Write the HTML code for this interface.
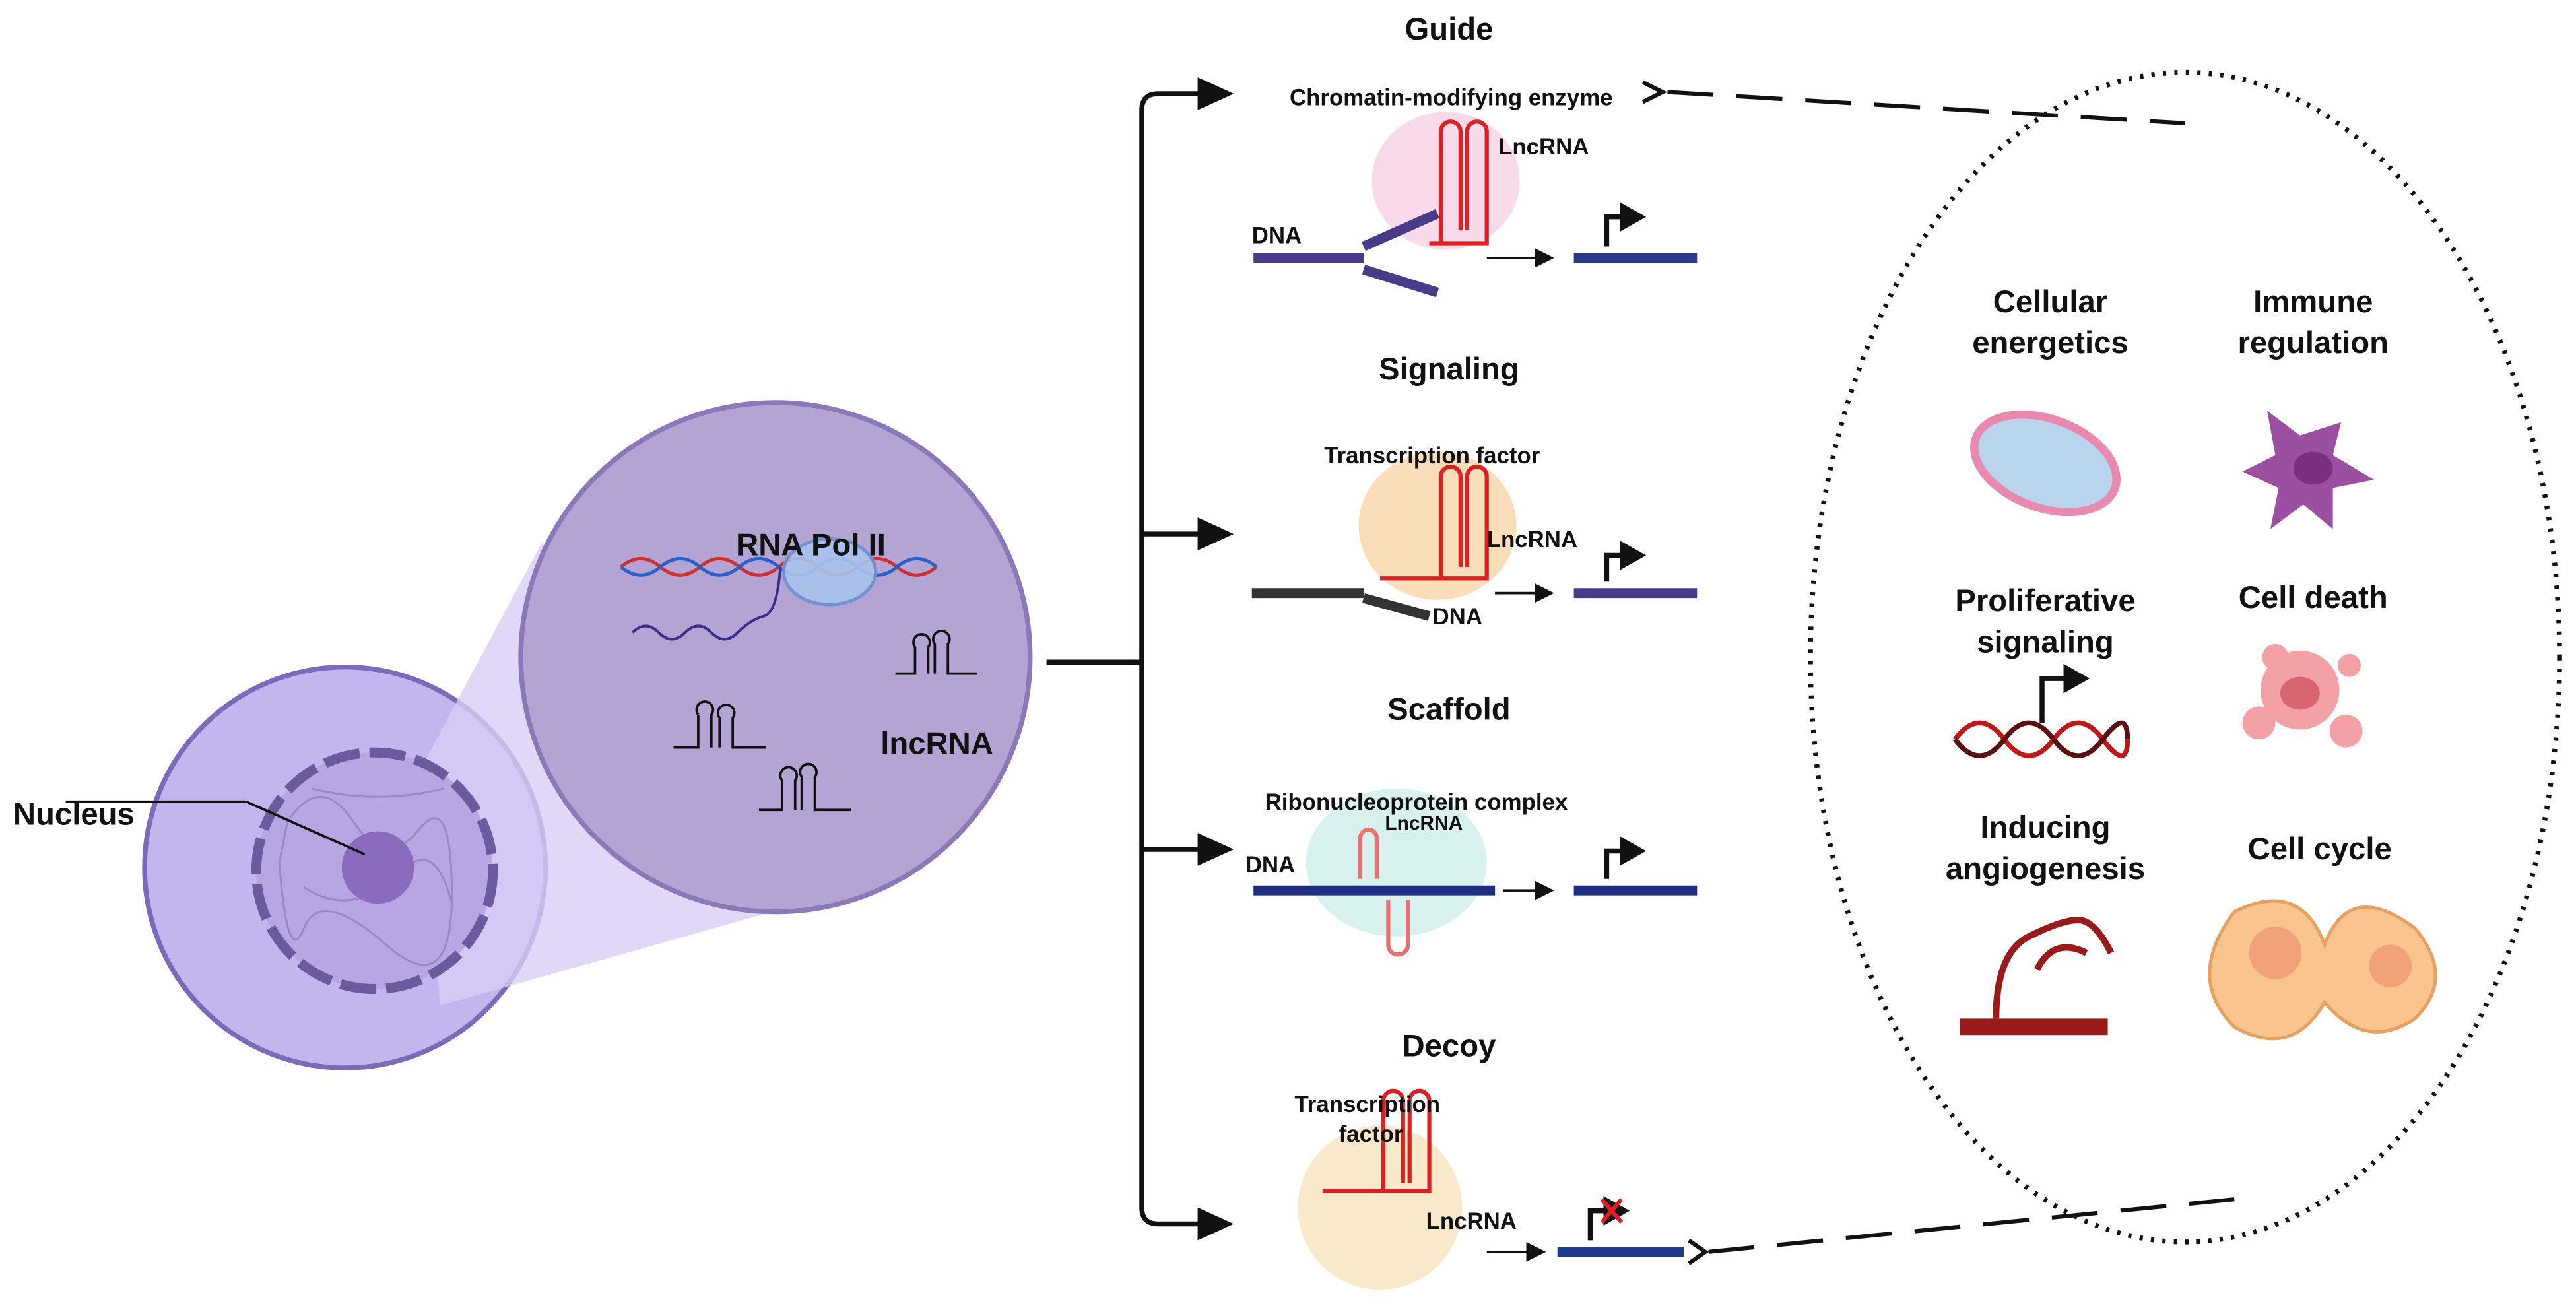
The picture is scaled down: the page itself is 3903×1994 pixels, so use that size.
<!DOCTYPE html>
<html><head><meta charset="utf-8"><style>html,body{margin:0;padding:0;background:#fff}svg{display:block}text{font-family:"Liberation Sans",sans-serif;font-weight:bold;fill:#111}</style></head><body>
<svg width="3903" height="1994" viewBox="0 0 1568 801" xmlns="http://www.w3.org/2000/svg">
<defs><marker id="ah" markerUnits="userSpaceOnUse" markerWidth="24" markerHeight="24" refX="4" refY="12" orient="auto"><path d="M0,2 L22,12 L0,22 Z" fill="#111"/></marker>
<marker id="sa" markerUnits="userSpaceOnUse" markerWidth="12" markerHeight="12" refX="4" refY="6" orient="auto"><path d="M0,0 L12,6 L0,12 Z" fill="#111"/></marker>
<marker id="pa" markerUnits="userSpaceOnUse" markerWidth="16" markerHeight="18" refX="2" refY="9" orient="auto"><path d="M0,0 L16,9 L0,18 Z" fill="#111"/></marker></defs>
<!-- cell -->
<circle cx="210" cy="528" r="122" fill="#c3b5ee" stroke="#7b69b9" stroke-width="3"/>
<polygon points="255,470 330,330 470,555 268,612" fill="#d9cdf5" opacity="0.8"/>
<circle cx="228" cy="530" r="72" fill="#b7a6e2" stroke="#6a5a9e" stroke-width="6" stroke-dasharray="22,6"/>
<g fill="none" stroke="#9a86c8" stroke-width="1.2"><path d="M175,500 q20,-30 40,0 t40,5 t20,40 t-40,30 t-50,-10 t-15,-40 z"/><path d="M185,540 q30,20 60,-10 q20,-20 30,20"/><path d="M190,480 q40,10 80,0"/></g>
<circle cx="230" cy="528" r="22" fill="#8a6cbf"/>
<line x1="40" y1="488" x2="150" y2="488" stroke="#111" stroke-width="1.5"/><line x1="150" y1="488" x2="222" y2="520" stroke="#111" stroke-width="1.5"/>
<text x="8" y="502" font-size="19">Nucleus</text>
<!-- zoom circle -->
<circle cx="472" cy="400" r="155" fill="#b3a4d3" stroke="#8b78b8" stroke-width="3"/>
<path d="M378,345 q12,-10 24,0 t24,0 t24,0 t24,0 t24,0 t24,0 t24,0 t24,0" fill="none" stroke="#d03030" stroke-width="2"/>
<path d="M378,345 q12,10 24,0 t24,0 t24,0 t24,0 t24,0 t24,0 t24,0 t24,0" fill="none" stroke="#2a60c8" stroke-width="2"/>
<ellipse cx="505" cy="348" rx="28" ry="20" fill="#a8c4ee" stroke="#6e8fd0" stroke-width="2" opacity="0.9"/>
<path d="M385,385 q8,-8 16,0 t16,0 t16,0 t16,0 t16,-10 t10,-30" fill="none" stroke="#3a2e8a" stroke-width="1.6"/>
<text x="448" y="338" font-size="19">RNA Pol II</text>
<text x="536" y="459" font-size="19">lncRNA</text>
<g fill="none" stroke="#111" stroke-width="1.5">
<path d="M410,455 l15,0 v-20 m0,0 a5,5 0 1,1 8,0 v20 m5,0 v-18 a5,5 0 1,1 8,0 v18 l20,0"/>
<path d="M545,410 l12,0 v-16 a5,5 0 1,1 8,0 v16 m4,0 v-18 a5,5 0 1,1 8,0 v18 l18,0"/>
<path d="M462,493 l14,0 v-18 a5,5 0 1,1 8,0 v18 m4,0 v-20 a5,5 0 1,1 8,0 v20 l22,0"/>
</g>
<!-- tree -->
<g stroke="#111" stroke-width="3" fill="none"><line x1="637" y1="403" x2="695" y2="403"/>
<path d="M705,57 Q695,57 695,67 V735 Q695,745 705,745"/></g>
<g stroke="#111" stroke-width="3"><line x1="705" y1="57" x2="733" y2="57" marker-end="url(#ah)"/><line x1="695" y1="325" x2="733" y2="325" marker-end="url(#ah)"/><line x1="695" y1="517" x2="733" y2="517" marker-end="url(#ah)"/><line x1="705" y1="745" x2="733" y2="745" marker-end="url(#ah)"/></g>
<!-- blobs -->
<ellipse cx="880" cy="110" rx="45" ry="42" fill="#f7d1e6" opacity="0.8"/>
<ellipse cx="875" cy="320" rx="48" ry="45" fill="#f9d5a8" opacity="0.8"/>
<ellipse cx="850" cy="525" rx="55" ry="45" fill="#cfeeea" opacity="0.8"/>
<ellipse cx="840" cy="735" rx="50" ry="50" fill="#f6e3bd" opacity="0.8"/>
<!-- headings -->
<g font-size="19" text-anchor="middle"><text x="882" y="24">Guide</text><text x="882" y="231">Signaling</text><text x="882" y="438">Scaffold</text><text x="882" y="643">Decoy</text></g>
<!-- DNA bars -->
<g stroke-width="6">
<line x1="763" y1="157" x2="830" y2="157" stroke="#4a3a8a"/><line x1="830" y1="150" x2="875" y2="130" stroke="#4a3a8a"/><line x1="830" y1="164" x2="875" y2="178" stroke="#4a3a8a"/>
<line x1="958" y1="157" x2="1033" y2="157" stroke="#2a3a8a"/>
<line x1="762" y1="361" x2="830" y2="361" stroke="#333"/><line x1="830" y1="364" x2="870" y2="375" stroke="#333"/>
<line x1="958" y1="361" x2="1033" y2="361" stroke="#4a3a8a"/>
<line x1="763" y1="542" x2="910" y2="542" stroke="#1e2e80"/><line x1="958" y1="542" x2="1033" y2="542" stroke="#1e2e80"/>
<line x1="948" y1="762" x2="1025" y2="762" stroke="#1e3a90"/></g>
<!-- lncRNA hairpins -->
<g fill="none" stroke="#e02020" stroke-width="2.5">
<path d="M870,148 H905 V80 a6,6 0 0,0 -12,0 V140 M889,140 V80 a6,6 0 0,0 -12,0 V148"/>
<path d="M840,352 H905 V290 a6,6 0 0,0 -12,0 V345 M889,345 V290 a6,6 0 0,0 -12,0 V352"/>
<path d="M828,535 V510 a5,5 0 0,1 10,0 V535 M845,548 V575 a6,6 0 0,0 12,0 V548" stroke="#e87070"/>
<path d="M805,725 H870 V670 a6,6 0 0,0 -12,0 V720 M854,720 V670 a6,6 0 0,0 -12,0 V725"/></g>
<g font-size="14"><text x="785" y="64">Chromatin-modifying enzyme</text><text x="912" y="94">LncRNA</text><text x="762" y="148">DNA</text>
<text x="806" y="282">Transcription factor</text><text x="905" y="333">LncRNA</text><text x="872" y="380">DNA</text>
<text x="770" y="493">Ribonucleoprotein complex</text><text x="843" y="505" font-size="12">LncRNA</text><text x="758" y="531">DNA</text>
<text x="788" y="677">Transcription</text><text x="815" y="695">factor</text><text x="868" y="748">LncRNA</text></g>
<!-- promoter arrows -->
<g stroke="#111" stroke-width="3" fill="none"><path d="M978,150 V132 H988" marker-end="url(#pa)"/><path d="M978,354 V338 H988" marker-end="url(#pa)"/><path d="M978,535 V518 H988" marker-end="url(#pa)"/><path d="M968,755 V737 H978" marker-end="url(#pa)"/></g>
<g stroke="#111" stroke-width="1.5"><line x1="905" y1="157" x2="938" y2="157" marker-end="url(#sa)"/><line x1="910" y1="361" x2="938" y2="361" marker-end="url(#sa)"/><line x1="915" y1="542" x2="938" y2="542" marker-end="url(#sa)"/><line x1="905" y1="762" x2="933" y2="762" marker-end="url(#sa)"/></g>
<path d="M975,730 l12,14 m0,-14 l-12,14" stroke="#e02020" stroke-width="2.5"/>
<!-- dashed connectors -->
<g stroke="#111" stroke-width="2.5" fill="none"><path d="M1000,50 l12,6 l-12,6"/><line x1="1015" y1="56" x2="1330" y2="75" stroke-dasharray="28,14"/>
<path d="M1028,755 l10,7 l-10,7"/><line x1="1040" y1="762" x2="1360" y2="730" stroke-dasharray="28,14"/></g>
<ellipse cx="1330" cy="400" rx="228" ry="356" fill="none" stroke="#111" stroke-width="3" stroke-dasharray="2,5"/>
<g font-size="19" text-anchor="middle"><text x="1248" y="190">Cellular</text><text x="1248" y="215">energetics</text><text x="1408" y="190">Immune</text><text x="1408" y="215">regulation</text>
<text x="1245" y="372">Proliferative</text><text x="1245" y="397">signaling</text><text x="1408" y="370">Cell death</text>
<text x="1245" y="510">Inducing</text><text x="1245" y="535">angiogenesis</text><text x="1412" y="523">Cell cycle</text></g>
<ellipse cx="1245" cy="282" rx="45" ry="27" transform="rotate(20 1245 282)" fill="#b9d5ee" stroke="#e88ab0" stroke-width="5"/>
<path d="M1380,250 l20,15 l25,-8 l-5,20 l25,15 l-25,5 l0,25 l-18,-15 l-20,15 l5,-25 l-22,-10 l20,-10 z" fill="#9a4fa0"/><ellipse cx="1408" cy="285" rx="12" ry="10" fill="#7a2f80"/>
<path d="M1190,450 q15,-20 30,0 t30,0 t30,0 t15,0" fill="none" stroke="#c01818" stroke-width="3"/><path d="M1190,450 q15,20 30,0 t30,0 t30,0 t15,0" fill="none" stroke="#5a1010" stroke-width="3"/>
<path d="M1243,440 V413 H1258" stroke="#111" stroke-width="3" fill="none" marker-end="url(#pa)"/>
<g fill="#f3a0a6"><circle cx="1400" cy="420" r="24"/><circle cx="1375" cy="440" r="10"/><circle cx="1428" cy="445" r="10"/><circle cx="1385" cy="400" r="8"/><circle cx="1430" cy="405" r="7"/></g><ellipse cx="1400" cy="422" rx="12" ry="10" fill="#d76670"/>
<rect x="1193" y="620" width="90" height="10" fill="#9a1a1a"/><path d="M1215,620 q0,-40 20,-50 t30,-10 t20,20 M1240,590 q10,-20 30,-10" fill="none" stroke="#9a1a1a" stroke-width="4"/>
<path d="M1360,555 q40,-20 55,20 q15,-40 55,-10 q25,30 0,55 q-30,20 -55,-10 q-20,35 -55,15 q-30,-30 0,-70 z" fill="#f9c48e" stroke="#e8a060" stroke-width="2"/>
<circle cx="1385" cy="580" r="16" fill="#f2a27a"/><circle cx="1455" cy="588" r="13" fill="#f2a27a"/>
</svg></body></html>
